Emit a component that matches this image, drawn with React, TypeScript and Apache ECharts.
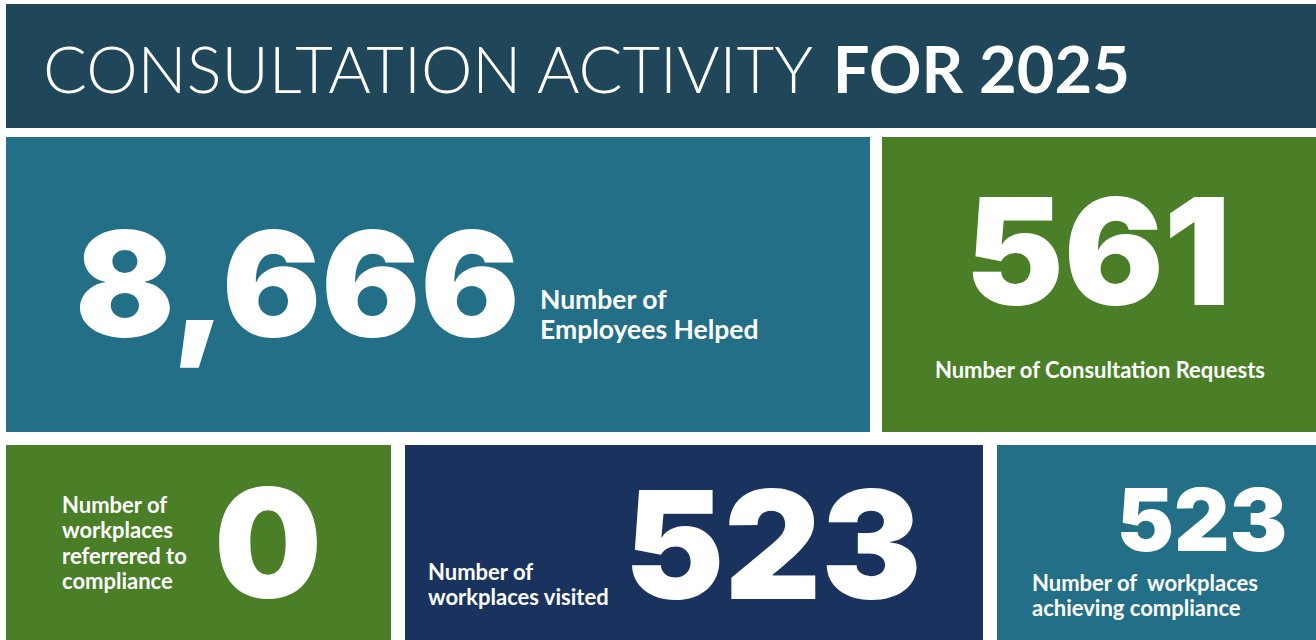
import React, { useEffect, useRef } from "react";
import * as echarts from "echarts";

const titleParts = ["CONSULTATION ACTIVITY ", "FOR 2025"];
const statValues = ["8,666", "561", "0", "523", "523"];
const statLabels = [
  ["Number of", "Employees Helped"],
  ["Number of Consultation Requests"],
  ["Number of", "workplaces", "referrered to", "compliance"],
  ["Number of", "workplaces visited"],
  ["Number of  workplaces", "achieving compliance"],
];
const tileColors = ["#236f87", "#4a7f28", "#4a7f28", "#19335e", "#236f87"];

const TITLE_BG = "#1f4659";
const NUM_FONT = "Inter, 'Open Sans', sans-serif";
const LBL_FONT = "Lato, 'Noto Sans', sans-serif";

// layout: tiles [x, y, w, h]
const tiles = [
  [6, 137, 864, 295],
  [882, 137, 434, 295],
  [6, 445, 385, 195],
  [405, 445, 578, 195],
  [997, 445, 319, 195],
];
// number layout: [x, y, size, align]
const numLayout: [number, number, number, string][] = [
  [75, 283, 147, "left"],
  [1098, 251, 148, "center"],
  [268, 543, 152, "center"],
  [773, 544, 150, "center"],
  [1202, 520, 86, "center"],
];
// label layout: [x, y(first line center), size, lineHeight, align]
const lblLayout: [number, number, number, number, string][] = [
  [540, 299, 26.5, 30, "left"],
  [1100, 369, 22, 25, "center"],
  [62, 504, 22, 25.5, "left"],
  [428, 571, 22, 25, "left"],
  [1032, 582, 22, 25, "left"],
];

export default function App() {
  const ref = useRef<HTMLDivElement>(null);
  useEffect(() => {
    const chart = echarts.init(ref.current!, null, { renderer: "svg" });
    const elements: any[] = [];
    elements.push({
      type: "rect",
      shape: { x: 6, y: 4, width: 1310, height: 124 },
      style: { fill: TITLE_BG },
    });
    elements.push({
      type: "text",
      x: 43,
      y: 68,
      style: {
        text: `{a|${titleParts[0]}}{b|${titleParts[1]}}`,
        verticalAlign: "middle",
        align: "left",
        rich: {
          a: { fontFamily: LBL_FONT, fontWeight: 300, fontSize: 65, fill: "#ffffff" },
          b: { fontFamily: LBL_FONT, fontWeight: 700, fontSize: 65, fill: "#ffffff" },
        },
      },
    });
    tiles.forEach((t, i) => {
      elements.push({
        type: "rect",
        shape: { x: t[0], y: t[1], width: t[2], height: t[3] },
        style: { fill: tileColors[i] },
      });
      const n = numLayout[i];
      elements.push({
        type: "text",
        x: n[0],
        y: n[1],
        style: {
          text: statValues[i],
          fontFamily: NUM_FONT,
          fontWeight: 900,
          fontSize: n[2],
          fill: "#ffffff",
          align: n[3],
          verticalAlign: "middle",
        },
      });
      const l = lblLayout[i];
      statLabels[i].forEach((line, j) => {
        elements.push({
          type: "text",
          x: l[0],
          y: l[1] + j * l[3],
          style: {
            text: line,
            fontFamily: LBL_FONT,
            fontWeight: 700,
            fontSize: l[2],
            fill: "#ffffff",
            align: l[4],
            verticalAlign: "middle",
          },
        });
      });
    });
    chart.setOption({
      animation: false,
      backgroundColor: "#ffffff",
      graphic: { elements },
    });
    return () => chart.dispose();
  }, []);
  return (
    <div
      ref={ref}
      style={{ position: "fixed", left: 0, top: 0, width: 1316, height: 640 }}
    />
  );
}
